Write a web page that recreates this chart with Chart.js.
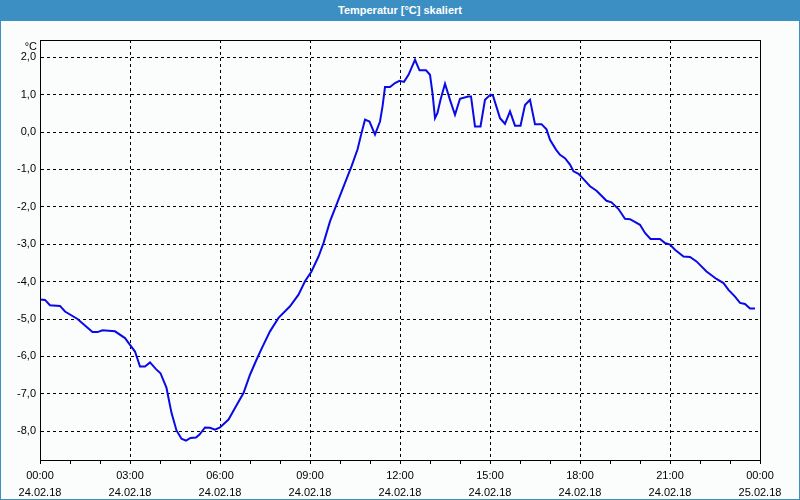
<!DOCTYPE html>
<html>
<head>
<meta charset="utf-8">
<script src="https://cdn.jsdelivr.net/npm/chart.js@4/dist/chart.umd.min.js"></script>
<style>
  html, body { margin: 0; padding: 0; background: #fbfdfd; }
  #title {
    width: 800px; height: 21px; background: #3c8fc3; color: #fff;
    font: bold 11px "Liberation Sans", Arial, sans-serif;
    line-height: 21px; text-align: center;
  }
  #wrap {
    width: 800px; height: 479px; box-sizing: border-box;
    border: 1px solid #3c8fc3; border-top: none; background: #fbfdfd;
  }
  canvas { display: block; }
</style>
</head>
<body>
<div id="title">Temperatur [°C] skaliert</div>
<div id="wrap"><canvas id="chart" width="798" height="478"></canvas></div>
<script>
// minutes since 24.02.18 00:00
const times = [0, 10, 20, 40, 50, 75, 105, 115, 125, 150, 170, 180, 190, 200, 210, 220, 232, 241, 253, 255,
  263, 273, 283, 292, 301, 312, 319, 330, 340, 350, 360, 377, 390, 407, 420, 433, 443, 460, 477, 500,
  517, 530, 543, 557, 567, 580, 593, 610, 623, 635, 643, 650, 659, 670, 680, 685, 690, 700, 710, 719,
  728, 737, 750, 759, 772, 780, 785, 790, 795, 801, 810, 820, 830, 840, 856, 862, 870, 881, 890, 901,
  906, 920, 930, 940, 950, 961, 970, 980, 990, 1003, 1013, 1020, 1032, 1040, 1050, 1060, 1067, 1077, 1087, 1100,
  1113, 1133, 1143, 1157, 1170, 1180, 1200, 1210, 1221, 1240, 1250, 1260, 1270, 1287, 1300, 1313, 1333, 1353, 1367, 1377,
  1390, 1400, 1410, 1420, 1430];
const temps = [-4.48, -4.49, -4.63, -4.65, -4.80, -5.00, -5.35, -5.35, -5.30, -5.33, -5.51, -5.69, -5.87, -6.27, -6.27, -6.16, -6.34, -6.45, -6.84, -6.98,
  -7.51, -7.98, -8.20, -8.25, -8.18, -8.17, -8.09, -7.90, -7.91, -7.96, -7.90, -7.69, -7.38, -6.98, -6.49, -6.09, -5.80, -5.33, -4.97, -4.66,
  -4.35, -3.99, -3.73, -3.33, -2.97, -2.39, -1.94, -1.36, -0.92, -0.47, -0.03, 0.33, 0.28, -0.07, 0.28, 0.68, 1.20, 1.20, 1.31, 1.37,
  1.34, 1.53, 1.93, 1.65, 1.65, 1.53, 1.04, 0.37, 0.51, 0.86, 1.29, 0.86, 0.46, 0.89, 0.95, 0.95, 0.15, 0.15, 0.86, 1.00,
  0.97, 0.37, 0.22, 0.55, 0.17, 0.17, 0.72, 0.86, 0.21, 0.21, 0.07, -0.21, -0.47, -0.61, -0.70, -0.87, -1.05, -1.12, -1.26, -1.45,
  -1.57, -1.84, -1.88, -2.06, -2.32, -2.33, -2.48, -2.70, -2.86, -2.86, -2.97, -3.01, -3.15, -3.33, -3.34, -3.46, -3.73, -3.93, -4.04, -4.22,
  -4.40, -4.57, -4.60, -4.72, -4.72];

const xTickTimes = ["00:00", "03:00", "06:00", "09:00", "12:00", "15:00", "18:00", "21:00", "00:00"];
const xTickDates = ["24.02.18", "24.02.18", "24.02.18", "24.02.18", "24.02.18", "24.02.18", "24.02.18", "24.02.18", "25.02.18"];
const yTicks = [2, 1, 0, -1, -2, -3, -4, -5, -6, -7, -8];

const font = { family: '"Liberation Sans", Arial, sans-serif', size: 11 };

// frame round the plot area and the unit label
const framePlugin = {
  id: "frame",
  afterDraw(chart) {
    const { ctx, chartArea: a } = chart;
    ctx.save();
    ctx.strokeStyle = "#000";
    ctx.lineWidth = 1;
    ctx.strokeRect(Math.round(a.left) + 0.5, Math.round(a.top) + 0.5,
      Math.round(a.right - a.left), Math.round(a.bottom - a.top));
    ctx.fillStyle = "#000";
    ctx.font = '11px "Liberation Sans", Arial, sans-serif';
    ctx.textAlign = "right";
    ctx.textBaseline = "middle";
    ctx.fillText("°C", a.left - 3, a.top + 7);
    ctx.restore();
  }
};

new Chart(document.getElementById("chart"), {
  type: "line",
  data: {
    datasets: [{
      data: times.map((t, i) => ({ x: t, y: temps[i] })),
      borderColor: "#0a0ae6",
      borderWidth: 2,
      pointRadius: 0,
      tension: 0,
      fill: false
    }]
  },
  options: {
    responsive: false,
    animation: false,
    devicePixelRatio: 1,
    layout: { padding: { top: 19, right: 39, left: 0, bottom: 0 } },
    plugins: { legend: { display: false }, tooltip: { enabled: false } },
    scales: {
      x: {
        type: "linear",
        min: 0,
        max: 1440,
        afterBuildTicks: (scale) => {
          const t = [];
          for (let m = 0; m <= 1440; m += 60) t.push({ value: m });
          scale.ticks = t;
        },
        afterFit: (scale) => { scale.height = 39; },
        grid: {
          color: (c) => (c.tick && c.tick.value % 180 === 0 ? "#000" : "rgba(0,0,0,0)"),
          tickColor: "#000",
          tickLength: 4,
          drawTicks: true
        },
        border: { display: true, color: "#000", dash: [3, 3] },
        ticks: {
          autoSkip: false,
          maxRotation: 0,
          padding: 3,
          color: "#000",
          font: { ...font, lineHeight: 1.6 },
          callback: (v) => (v % 180 === 0 ? [xTickTimes[v / 180], xTickDates[v / 180]] : "")
        }
      },
      y: {
        min: -8.77,
        max: 2.46,
        afterBuildTicks: (scale) => { scale.ticks = yTicks.map((v) => ({ value: v })); },
        afterFit: (scale) => { scale.width = 39; },
        grid: { color: "#000", drawTicks: false },
        border: { display: true, color: "#000", dash: [3, 3] },
        ticks: {
          padding: 4,
          color: "#000",
          font: font,
          callback: (v) => v.toFixed(1).replace(".", ",")
        }
      }
    }
  },
  plugins: [framePlugin]
});
</script>
</body>
</html>
